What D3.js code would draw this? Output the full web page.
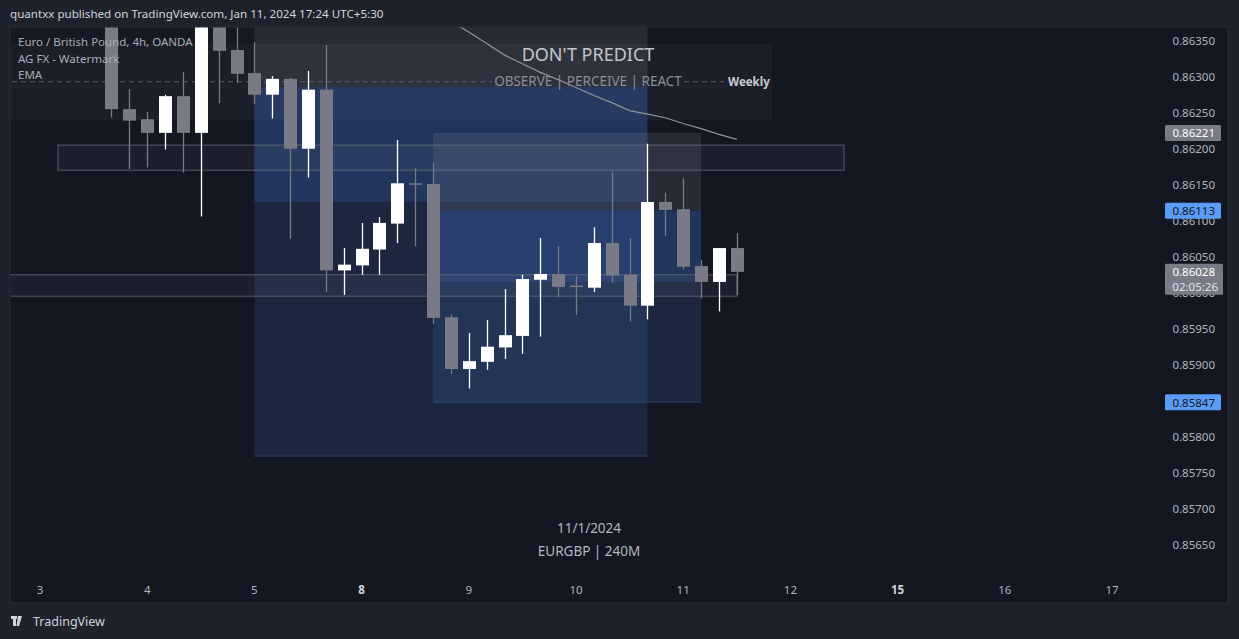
<!DOCTYPE html>
<html><head><meta charset="utf-8">
<script src="https://cdn.jsdelivr.net/npm/d3@7"></script>
<style>
html,body{margin:0;padding:0;background:#1e222d;}
svg{display:block;font-family:"Noto Sans","DejaVu Sans",sans-serif;}
</style></head>
<body><svg id="c" width="1239" height="639"></svg>
<script>
// ---------------- DATA ----------------
const candleIdx = [4,5,6,7,8,9,10,11,12,13,14,15,16,17,18,19,20,21,22,23,24,25,26,27,28,29,30,31,32,33,34,35,36,37,38,39];
const opens  = [0.86420,0.86254,0.86240,0.86221,0.86272,0.86221,0.86410,0.86336,0.86304,0.86274,0.86296,0.86199,0.86281,0.86030,0.86037,0.86059,0.86095,0.86151,0.86150,0.85965,0.85893,0.85903,0.85923,0.85939,0.86017,0.86025,0.86009,0.86006,0.86068,0.86024,0.85981,0.86125,0.86115,0.86036,0.86014,0.86061];
const highs  = [0.86440,0.86282,0.86250,0.86274,0.86306,0.86420,0.86430,0.86380,0.86347,0.86300,0.86298,0.86307,0.86343,0.86061,0.86096,0.86104,0.86211,0.86172,0.86179,0.85969,0.85943,0.85961,0.86004,0.86024,0.86075,0.86064,0.86022,0.86090,0.86167,0.86075,0.86206,0.86138,0.86158,0.86044,0.86061,0.86082];
const lows   = [0.86242,0.86171,0.86173,0.86198,0.86166,0.86105,0.86262,0.86291,0.86261,0.86241,0.86074,0.86159,0.86000,0.85996,0.86024,0.86024,0.86068,0.86064,0.85956,0.85886,0.85866,0.85892,0.85907,0.85914,0.85938,0.85993,0.85968,0.86000,0.86013,0.85959,0.85962,0.86078,0.86031,0.85991,0.85973,0.85996];
const closes = [0.86254,0.86238,0.86221,0.86272,0.86221,0.86400,0.86335,0.86303,0.86274,0.86296,0.86199,0.86281,0.86030,0.86038,0.86060,0.86096,0.86151,0.86149,0.85964,0.85893,0.85904,0.85924,0.85940,0.86018,0.86025,0.86007,0.86007,0.86068,0.86023,0.85981,0.86125,0.86114,0.86035,0.86014,0.86061,0.86028];

const emaIdx = [23,24,25,26,27,28,29,30,31,32,33,34,35,36,37,38,39];
const emaVals = [0.86376,0.86361,0.86345,0.86329,0.86317,0.86305,0.86295,0.86284,0.86273,0.86263,0.86252,0.86247,0.86242,0.86234,0.86227,0.86219,0.86212];

const dayTickIdx = [0,6,12,18,24,30,36,42,48,54,60];
const dayTickLabels = ["3","4","5","8","9","10","11","12","15","16","17"];
const dayTickBold = [false,false,false,true,false,false,false,false,true,false,false];

const priceTicks = [0.8635,0.8630,0.8625,0.8620,0.8615,0.8610,0.8605,0.8600,0.8595,0.8590,0.8585,0.8580,0.8575,0.8570,0.8565];

// position tools
const posStart = [12,22];
const posEnd = [34,37];
const posEntry = [0.86285,0.86113];
const posStop = [0.86430,0.86221];
const posTarget = [0.85772,0.85847];
const posClose = [0.86125,0.86014];

// zones
const zoneStart = [1,-4];
const zoneEnd = [45,39];
const zoneTop = [0.86204,0.86024];
const zoneBottom = [0.86169,0.85994];

const weeklyLevel = 0.86292;

const axisLabelPrices = [0.86221,0.86113,0.85847];
const axisLabelKinds = ["gray","blue","blue"];
const lastPrice = 0.86028;
const countdown = "02:05:26";

// ---------------- CHART ----------------
const svg = d3.select("#c");
const W=1239,H=639;
const panel = {l:10,t:27,r:1228,b:603};
const x = d3.scaleLinear().domain([0,60]).range([40,1112]);
const y = d3.scaleLinear().domain([0.8565,0.8635]).range([544,40]);

svg.append("rect").attr("width",W).attr("height",H).attr("fill","#1e222d");
svg.append("rect").attr("x",panel.l).attr("y",panel.t).attr("width",panel.r-panel.l).attr("height",panel.b-panel.t)
  .attr("fill","#131722").attr("stroke","#2a2e39").attr("stroke-width",1);

const defs = svg.append("defs");
defs.append("clipPath").attr("id","plot").append("rect")
  .attr("x",panel.l+0.5).attr("y",panel.t+0.5).attr("width",1160-panel.l).attr("height",575-panel.t);

const g = svg.append("g").attr("clip-path","url(#plot)");

// watermark box
g.append("rect").attr("x",10).attr("y",44).attr("width",762).attr("height",76).attr("fill","rgba(255,255,255,0.035)");
g.append("rect").attr("x",10).attr("y",27).attr("width",245).attr("height",17).attr("fill","rgba(255,255,255,0.012)");

// positions
posStart.forEach((s,i)=>{
  const x0=x(s), x1=x(posEnd[i]);
  g.append("rect").attr("x",x0).attr("y",y(posStop[i])).attr("width",x1-x0)
    .attr("height",y(posEntry[i])-y(posStop[i])).attr("fill","rgba(150,152,162,0.16)");
  g.append("rect").attr("x",x0).attr("y",y(posEntry[i])).attr("width",x1-x0)
    .attr("height",y(posTarget[i])-y(posEntry[i])).attr("fill","rgba(74,118,200,0.18)");
  g.append("rect").attr("x",x0).attr("y",y(posEntry[i])).attr("width",x1-x0)
    .attr("height",y(posClose[i])-y(posEntry[i])).attr("fill","rgba(60,110,210,0.2)");
  g.append("line").attr("x1",x0).attr("x2",x1).attr("y1",y(posTarget[i])).attr("y2",y(posTarget[i]))
    .attr("stroke","rgba(90,130,200,0.35)").attr("stroke-width",1);
});

// zones
zoneStart.forEach((s,i)=>{
  g.append("rect").attr("x",x(s)).attr("y",y(zoneTop[i])).attr("width",x(zoneEnd[i])-x(s))
    .attr("height",y(zoneBottom[i])-y(zoneTop[i]))
    .attr("fill","rgba(130,130,160,0.09)").attr("stroke","rgba(120,123,134,0.45)").attr("stroke-width",1.5);
});

// weekly dashed level
const wy = y(weeklyLevel);
g.append("line").attr("x1",12).attr("x2",492).attr("y1",wy).attr("y2",wy)
  .attr("stroke","#5d606b").attr("stroke-dasharray","5,4");
g.append("line").attr("x1",684).attr("x2",724).attr("y1",wy).attr("y2",wy)
  .attr("stroke","#5d606b").attr("stroke-dasharray","5,4");

// EMA
g.append("path").datum(emaIdx.map((d,i)=>[d,emaVals[i]]))
  .attr("d",d3.line().x(d=>x(d[0])).y(d=>y(d[1])))
  .attr("fill","none").attr("stroke","#8f929b").attr("stroke-width",1.2);

// candles
const bw = 13;
candleIdx.forEach((ci,i)=>{
  const up = closes[i]>=opens[i];
  const col = up? "#ffffff" : "#787b86";
  const cx = Math.round(x(ci))+0.5;
  g.append("line").attr("x1",cx).attr("x2",cx).attr("y1",y(highs[i])).attr("y2",y(lows[i])).attr("stroke",col).attr("stroke-width",1.3);
  const top=y(Math.max(opens[i],closes[i])), bot=y(Math.min(opens[i],closes[i]));
  g.append("rect").attr("x",cx-bw/2).attr("y",top).attr("width",bw).attr("height",Math.max(1.5,bot-top)).attr("fill",col);
});

// watermark texts
g.append("text").attr("x",588).attr("y",61).attr("text-anchor","middle").attr("font-size",18)
  .attr("fill","#c3c5cc").text("DON'T PREDICT");
g.append("text").attr("x",588).attr("y",86).attr("text-anchor","middle").attr("font-size",13.5)
  .attr("fill","#8b8e97").text("OBSERVE | PERCEIVE | REACT");
g.append("text").attr("x",728).attr("y",86).attr("font-size",11.5).attr("font-weight","bold")
  .attr("fill","#c9cbd2").text("Weekly");

// legend
const leg = ["Euro / British Pound, 4h, OANDA","AG FX - Watermark","EMA"];
leg.forEach((t,i)=>svg.append("text").attr("x",18).attr("y",46+i*16.5).attr("font-size",11.5)
  .attr("fill","#a9acb5").text(t));

// header
svg.append("text").attr("x",10).attr("y",18).attr("font-size",11.6).attr("fill","#d1d4dc")
  .text("quantxx published on TradingView.com, Jan 11, 2024 17:24 UTC+5:30");

// center footer texts
svg.append("text").attr("x",589).attr("y",533).attr("text-anchor","middle").attr("font-size",13.5).attr("fill","#b2b5be").text("11/1/2024");
svg.append("text").attr("x",589).attr("y",556).attr("text-anchor","middle").attr("font-size",13.5).attr("fill","#b2b5be").text("EURGBP | 240M");

// price axis
priceTicks.forEach(p=>{
  svg.append("text").attr("x",1215).attr("y",y(p)+4.5).attr("text-anchor","end").attr("font-size",11.5)
    .attr("fill","#b2b5be").text(p.toFixed(5));
});
axisLabelPrices.forEach((p,i)=>{
  const blue = axisLabelKinds[i]==="blue";
  svg.append("rect").attr("x",1165).attr("y",y(p)-8).attr("width",56).attr("height",16).attr("rx",1.5)
    .attr("fill",blue?"#5b9cf6":"#787b86");
  svg.append("text").attr("x",1215).attr("y",y(p)+4.5).attr("text-anchor","end").attr("font-size",11.5)
    .attr("fill",blue?"#131722":"#ffffff").text(p.toFixed(5));
});
{
  const yy=y(lastPrice);
  svg.append("rect").attr("x",1165).attr("y",yy-8).attr("width",58).attr("height",31).attr("rx",1.5).attr("fill","#787b86");
  svg.append("text").attr("x",1215).attr("y",yy+4.5).attr("text-anchor","end").attr("font-size",11.5).attr("fill","#ffffff").text(lastPrice.toFixed(5));
  svg.append("text").attr("x",1218).attr("y",yy+19.5).attr("text-anchor","end").attr("font-size",11.5).attr("fill","#e0e3eb").text(countdown);
}

// time axis
dayTickIdx.forEach((d,i)=>{
  svg.append("text").attr("x",x(d)).attr("y",594).attr("text-anchor","middle").attr("font-size",11.5)
    .attr("font-weight",dayTickBold[i]?"bold":"normal")
    .attr("fill",dayTickBold[i]?"#d1d4dc":"#b2b5be").text(dayTickLabels[i]);
});

// footer logo
const lg = svg.append("g").attr("transform","translate(11,616)").attr("fill","#d1d4dc");
lg.append("rect").attr("x",0).attr("y",0).attr("width",6).attr("height",3);
lg.append("rect").attr("x",2).attr("y",0).attr("width",3).attr("height",10);
lg.append("path").attr("d","M7,0 L11,0 L8,10 L5.5,10 Z");
lg.append("circle").attr("cx",8.3).attr("cy",1.5).attr("r",1.5);
svg.append("text").attr("x",33).attr("y",626).attr("font-size",12.5).attr("fill","#d1d4dc").text("TradingView");
</script>
</body></html>
